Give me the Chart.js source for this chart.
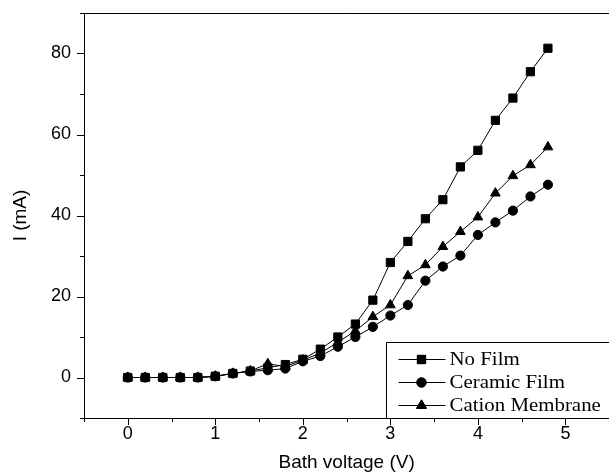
<!DOCTYPE html>
<html>
<head>
<meta charset="utf-8">
<script src="https://cdn.jsdelivr.net/npm/chart.js@4/dist/chart.umd.min.js"></script>
<style>
  html, body { margin: 0; padding: 0; background: #fff; overflow: hidden; }
  #wrap { position: absolute; left: 0; top: 0; width: 616px; height: 475px; }
</style>
</head>
<body>
<div id="wrap"><canvas id="chart" width="616" height="475"></canvas></div>
<script>
// Bath voltage (V) on the x axis
const voltage = [0, 0.2, 0.4, 0.6, 0.8, 1.0, 1.2, 1.4, 1.6, 1.8, 2.0, 2.2, 2.4,
                 2.6, 2.8, 3.0, 3.2, 3.4, 3.6, 3.8, 4.0, 4.2, 4.4, 4.6, 4.8];
// current I (mA) per series
const noFilm = [0, 0, 0, 0, 0, 0.3, 1.0, 1.6, 2.4, 3.2, 4.5, 7.0, 10.0,
                13.2, 19.1, 28.4, 33.6, 39.2, 43.9, 52.0, 56.1, 63.5, 69.0, 75.5, 81.3];
const ceramicFilm = [0, 0, 0, 0, 0, 0.3, 1.0, 1.5, 1.8, 2.2, 4.0, 5.3, 7.6,
                     10.0, 12.5, 15.3, 17.9, 23.9, 27.4, 30.1, 35.2, 38.3, 41.2, 44.7, 47.6];
const cationMembrane = [0, 0, 0, 0, 0, 0.3, 1.0, 1.6, 3.4, 2.7, 4.3, 6.0, 8.7,
                        11.5, 15.0, 17.9, 25.1, 27.8, 32.3, 36.0, 39.6, 45.5, 49.8, 52.5, 56.9];
const seriesLabels = ['No Film', 'Ceramic Film', 'Cation Membrane'];
const xTickLabels = [0, 1, 2, 3, 4, 5];
const yTickLabels = [0, 20, 40, 60, 80];

function toPoints(ys) {
  return ys.map((y, i) => ({ x: voltage[i], y: y }));
}

function makeSet(label, ys, style, radius) {
  return {
    label: label,
    data: toPoints(ys),
    borderColor: '#000',
    borderWidth: 1,
    backgroundColor: '#000',
    pointStyle: style,
    pointRadius: radius,
    pointBorderWidth: 1,
    pointBorderColor: '#000',
    pointBackgroundColor: '#000',
    showLine: true,
    tension: 0
  };
}

// tick marks (major / minor), the top frame line and the boxed legend
const framePlugin = {
  id: 'frame',
  afterDraw(chart) {
    const ctx = chart.ctx;
    const area = chart.chartArea;
    const xs = chart.scales.x;
    const ys = chart.scales.y;
    ctx.save();
    ctx.strokeStyle = '#000';
    ctx.lineWidth = 1;
    ctx.beginPath();
    ctx.moveTo(area.left, Math.round(area.top) + 0.5);
    ctx.lineTo(area.right + 5, Math.round(area.top) + 0.5);
    xs.ticks.forEach(t => {
      const px = Math.round(xs.getPixelForValue(t.value)) + 0.5;
      const len = xTickLabels.includes(t.value) ? 7 : 4;
      ctx.moveTo(px, area.bottom);
      ctx.lineTo(px, area.bottom + len);
    });
    ys.ticks.forEach(t => {
      const py = Math.round(ys.getPixelForValue(t.value)) + 0.5;
      const len = yTickLabels.includes(t.value) ? 7 : 4;
      ctx.moveTo(area.left, py);
      ctx.lineTo(area.left - len, py);
    });
    ctx.stroke();

    // legend box in the lower right corner
    const boxL = Math.round(area.right - 223) + 0.5;
    const boxT = Math.round(area.bottom - 76) + 0.5;
    ctx.fillStyle = '#fff';
    ctx.fillRect(boxL, boxT, area.right - boxL + 5, area.bottom - boxT);
    ctx.beginPath();
    ctx.moveTo(area.right + 5, boxT);
    ctx.lineTo(boxL, boxT);
    ctx.lineTo(boxL, area.bottom);
    ctx.stroke();

    ctx.font = '18px "Liberation Serif", "Times New Roman", serif';
    ctx.textBaseline = 'alphabetic';
    ctx.textAlign = 'left';
    chart.data.datasets.forEach((ds, i) => {
      const baseY = boxT + 22.5 + i * 23;
      const midY = baseY - 5.5;
      ctx.beginPath();
      ctx.moveTo(boxL + 12, midY);
      ctx.lineTo(boxL + 59, midY);
      ctx.stroke();
      Chart.helpers.drawPoint(ctx, {
        pointStyle: ds.pointStyle,
        radius: ds.pointRadius,
        borderWidth: 1,
        rotation: 0
      }, boxL + 35, midY);
      ctx.fillStyle = '#000';
      ctx.fill();
      ctx.stroke();
      // the legend type in the original is set wide
      ctx.save();
      ctx.translate(boxL + 63, baseY);
      ctx.scale(1.16, 1);
      ctx.fillText(ds.label, 0, 0);
      ctx.restore();
    });
    ctx.restore();
  }
};

const tickFont = { family: '"Liberation Sans", Arial, sans-serif', size: 18 };
const titleFont = { family: '"Liberation Sans", Arial, sans-serif', size: 19 };

new Chart(document.getElementById('chart'), {
  type: 'scatter',
  data: {
    datasets: [
      makeSet(seriesLabels[0], noFilm, 'rect', 5.8),
      makeSet(seriesLabels[1], ceramicFilm, 'circle', 4.6),
      makeSet(seriesLabels[2], cationMembrane, 'triangle', 5.6)
    ]
  },
  options: {
    responsive: false,
    devicePixelRatio: 1,
    animation: false,
    layout: { padding: { top: 13, right: 2, left: 0, bottom: 0 } },
    plugins: {
      legend: { display: false },
      tooltip: { enabled: false }
    },
    scales: {
      x: {
        type: 'linear',
        min: -0.5,
        max: 5.5,
        afterFit(scale) {
          scale.height = 57;
          scale.paddingLeft = 0;
          scale.paddingRight = 0;
        },
        grid: { display: true, drawOnChartArea: false, drawTicks: false },
        border: { display: true, color: '#000', width: 1 },
        ticks: {
          stepSize: 0.5,
          autoSkip: false,
          maxRotation: 0,
          padding: 5,
          color: '#000',
          font: tickFont,
          callback: v => xTickLabels.includes(v) ? String(v) : ''
        },
        title: {
          display: true,
          text: 'Bath voltage (V)',
          color: '#000',
          font: titleFont,
          padding: { top: 0, bottom: 1 }
        }
      },
      y: {
        type: 'linear',
        min: -10,
        max: 90,
        afterFit(scale) {
          scale.width = 84;
          scale.paddingTop = 0;
          scale.paddingBottom = 0;
        },
        grid: { display: true, drawOnChartArea: false, drawTicks: false },
        border: { display: true, color: '#000', width: 1 },
        ticks: {
          stepSize: 10,
          autoSkip: false,
          padding: 13,
          color: '#000',
          font: tickFont,
          callback: v => yTickLabels.includes(v) ? String(v) : ''
        },
        title: {
          display: true,
          text: 'I (mA)',
          color: '#000',
          font: titleFont,
          padding: { top: 9, bottom: 0 }
        }
      }
    }
  },
  plugins: [framePlugin]
});
</script>
</body>
</html>
